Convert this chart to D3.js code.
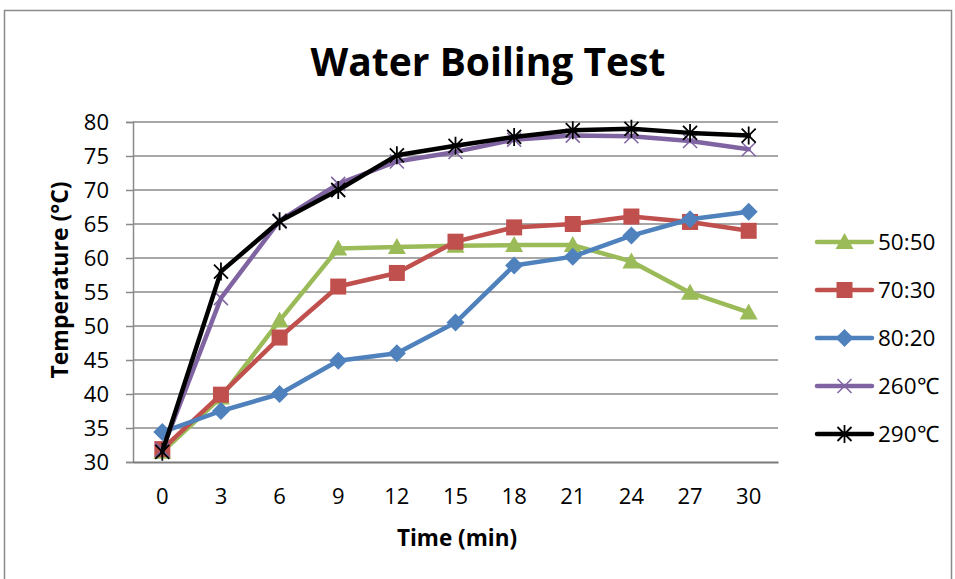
<!DOCTYPE html>
<html>
<head>
<meta charset="utf-8">
<script src="https://cdn.jsdelivr.net/npm/d3@7"></script>
<style>
  body { margin: 0; background: #fff; }
  text { font-family: "Open Sans", "Liberation Sans", sans-serif; fill: #000; }
</style>
</head>
<body>
<div id="chart"></div>
<script>
// data
const times = [0, 3, 6, 9, 12, 15, 18, 21, 24, 27, 30];
const s5050 = [31.5, 39.5, 50.8, 61.4, 61.6, 61.8, 61.9, 61.9, 59.5, 54.9, 52.0];
const s7030 = [31.9, 39.9, 48.3, 55.8, 57.8, 62.4, 64.5, 65.0, 66.1, 65.3, 64.0];
const s8020 = [34.4, 37.5, 40.0, 44.9, 46.0, 50.5, 58.9, 60.2, 63.3, 65.7, 66.8];
const s260 = [31.8, 54.1, 65.5, 70.9, 74.2, 75.6, 77.4, 78.0, 77.9, 77.2, 76.0];
const s290 = [31.5, 58.0, 65.4, 70.0, 75.1, 76.5, 77.8, 78.8, 79.0, 78.4, 78.0];
const yTicks = [30, 35, 40, 45, 50, 55, 60, 65, 70, 75, 80];

const series = [
    { name: "50:50", values: s5050, color: "#9BBB59", marker: "triangle" },
    { name: "70:30", values: s7030, color: "#C0504D", marker: "square" },
    { name: "80:20", values: s8020, color: "#4F81BD", marker: "diamond" },
    { name: "260℃", values: s260, color: "#8064A2", marker: "x" },
    { name: "290℃", values: s290, color: "#000000", marker: "star" }
];

const W = 955, H = 579;
const margin = { left: 133, right: 177, top: 122, bottom: 117 };
const width = W - margin.left - margin.right;
const height = H - margin.top - margin.bottom;

const svg = d3.select("#chart").append("svg")
    .attr("width", W)
    .attr("height", H);

// outer chart frame
svg.append("rect")
    .attr("x", 4.5).attr("y", 10.5)
    .attr("width", 947).attr("height", 600)
    .attr("fill", "none").attr("stroke", "#8a8a8a").attr("stroke-width", 1.5);

svg.append("text")
    .attr("x", 488).attr("y", 76)
    .attr("text-anchor", "middle")
    .attr("font-size", 39).attr("font-weight", "bold")
    .text("Water Boiling Test");

const g = svg.append("g").attr("transform", `translate(${margin.left}, ${margin.top})`);

const x = d3.scaleBand().domain(times).range([0, width]);
const y = d3.scaleLinear().domain([30, 80]).range([height, 0]);
const cx = d => x(d) + x.bandwidth() / 2;

// gridlines
g.append("g").selectAll("line").data(yTicks.slice(1)).join("line")
    .attr("x1", 0).attr("x2", width)
    .attr("y1", d => y(d)).attr("y2", d => y(d))
    .attr("stroke", "#8a8a8a").attr("stroke-width", 1.5);

// y axis
const yAxis = g.append("g")
    .call(d3.axisLeft(y).tickValues(yTicks).tickSize(7).tickPadding(17));
yAxis.select(".domain").attr("stroke", "#8a8a8a").attr("stroke-width", 1.5);
yAxis.selectAll(".tick line").attr("stroke", "#8a8a8a").attr("stroke-width", 1.5);
yAxis.selectAll(".tick text").attr("font-size", 22).attr("font-family", "Open Sans");

// x axis
const xAxis = g.append("g").attr("transform", `translate(0, ${height})`)
    .call(d3.axisBottom(x).tickSize(0).tickPadding(26));
xAxis.select(".domain").attr("stroke", "#7a7a7a").attr("stroke-width", 2);
xAxis.selectAll(".tick text").attr("font-size", 22).attr("font-family", "Open Sans");

// axis titles
svg.append("text")
    .attr("transform", "translate(68, 280) rotate(-90)")
    .attr("text-anchor", "middle")
    .attr("font-size", 23).attr("font-weight", "bold")
    .text("Temperature (°C)");

svg.append("text")
    .attr("x", 457).attr("y", 546)
    .attr("text-anchor", "middle")
    .attr("font-size", 22.5).attr("font-weight", "bold")
    .text("Time (min)");

function drawMarker(sel, type, color) {
    if (type === "triangle") {
        sel.append("path").attr("d", "M0,-9 L9,7 L-9,7 Z").attr("fill", color);
    } else if (type === "square") {
        sel.append("rect").attr("x", -8).attr("y", -8).attr("width", 16).attr("height", 16).attr("fill", color);
    } else if (type === "diamond") {
        sel.append("path").attr("d", "M0,-9 L9,0 L0,9 L-9,0 Z").attr("fill", color);
    } else if (type === "x") {
        sel.append("path").attr("d", "M-7,-7 L7,7 M-7,7 L7,-7")
            .attr("stroke", color).attr("stroke-width", 1.5).attr("fill", "none");
    } else if (type === "star") {
        sel.append("path").attr("d", "M-7,-7 L7,7 M-7,7 L7,-7 M0,-9 L0,9")
            .attr("stroke", color).attr("stroke-width", 1.8).attr("fill", "none");
    }
}

const line = d3.line()
    .x((d, i) => cx(times[i]))
    .y(d => y(d));

series.forEach(s => {
    g.append("path")
        .attr("d", line(s.values))
        .attr("fill", "none")
        .attr("stroke", s.color)
        .attr("stroke-width", 4.5)
        .attr("stroke-linejoin", "round")
        .attr("stroke-linecap", "round");
    s.values.forEach((v, i) => {
        const m = g.append("g").attr("transform", `translate(${cx(times[i])}, ${y(v)})`);
        drawMarker(m, s.marker, s.color);
    });
});

// legend
const legend = svg.append("g").attr("transform", "translate(817, 242)");
series.forEach((s, i) => {
    const item = legend.append("g").attr("transform", `translate(0, ${i * 48})`);
    item.append("line")
        .attr("x1", 0).attr("x2", 55).attr("y1", 0).attr("y2", 0)
        .attr("stroke", s.color).attr("stroke-width", 4.5).attr("stroke-linecap", "round");
    drawMarker(item.append("g").attr("transform", "translate(27.5, 0)"), s.marker, s.color);
    item.append("text")
        .attr("x", 61).attr("y", 0).attr("dy", "0.35em")
        .attr("font-size", 22.5)
        .text(s.name);
});
</script>
</body>
</html>
